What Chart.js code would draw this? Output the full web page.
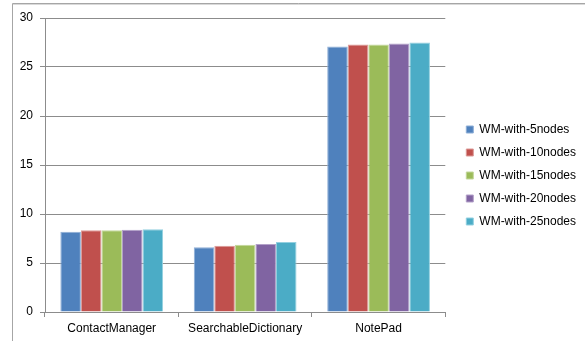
<!DOCTYPE html>
<html>
<head>
<meta charset="utf-8">
<script src="https://cdn.jsdelivr.net/npm/chart.js@4"></script>
<style>
  html, body { margin: 0; padding: 0; background: #ffffff; }
  #wrap { width: 585px; height: 341px; position: relative; }
</style>
</head>
<body>
<div id="wrap"><canvas id="chart" width="585" height="341"></canvas></div>
<script>
// Applications on the category axis
const categories = ['ContactManager', 'SearchableDictionary', 'NotePad'];

// One series per cluster size
const seriesNames = ['WM-with-5nodes', 'WM-with-10nodes', 'WM-with-15nodes', 'WM-with-20nodes', 'WM-with-25nodes'];
const wm5nodes  = [8.2, 6.6, 27.1];
const wm10nodes = [8.35, 6.75, 27.3];
const wm15nodes = [8.35, 6.85, 27.3];
const wm20nodes = [8.4, 6.95, 27.4];
const wm25nodes = [8.45, 7.15, 27.5];

// Value axis ticks
const yTicks = [0, 5, 10, 15, 20, 25, 30];

const seriesValues = [wm5nodes, wm10nodes, wm15nodes, wm20nodes, wm25nodes];
const fills   = ['#4F81BD', '#C0504D', '#9BBB59', '#8064A2', '#4BACC6'];
const borders = ['#8eaed6', '#dd9a98', '#c3d89c', '#b3a1c9', '#93d0e0'];

const FONT = '"Liberation Sans", Arial, sans-serif';

// Frame on the left and top edges of the picture
const framePlugin = {
  id: 'frame',
  beforeDraw(chart) {
    const ctx = chart.ctx;
    ctx.save();
    ctx.strokeStyle = '#a6a6a6';
    ctx.lineWidth = 1;
    ctx.beginPath();
    ctx.moveTo(12.5, chart.height);
    ctx.lineTo(12.5, 3.5);
    ctx.lineTo(chart.width, 3.5);
    ctx.stroke();
    ctx.strokeStyle = '#d9d9d9';
    ctx.beginPath();
    ctx.moveTo(13, 4.5);
    ctx.lineTo(chart.width, 4.5);
    ctx.stroke();
    ctx.restore();
  }
};

// Nudge the legend block a little right and up
const legendShift = {
  id: 'legendShift',
  afterLayout(chart) {
    const lg = chart.legend;
    if (!lg) return;
    lg.left += 10; lg.right += 10;
    lg.top -= 4; lg.bottom -= 4;
  }
};

new Chart(document.getElementById('chart'), {
  type: 'bar',
  data: {
    labels: categories,
    datasets: seriesNames.map((name, i) => ({
      label: name,
      data: seriesValues[i],
      backgroundColor: fills[i],
      borderColor: borders[i],
      borderWidth: 1,
      categoryPercentage: 0.77,
      barPercentage: 1.0
    }))
  },
  options: {
    responsive: false,
    animation: false,
    devicePixelRatio: 1,
    layout: { padding: { left: 0, top: 18, right: 9, bottom: 0 } },
    plugins: {
      tooltip: { enabled: false },
      legend: {
        position: 'right',
        labels: {
          boxWidth: 7,
          boxHeight: 7,
          padding: 11,
          color: '#000000',
          font: { family: FONT, size: 12 }
        }
      }
    },
    scales: {
      x: {
        afterFit(s) { s.height = 29; },
        grid: {
          offset: true,
          drawOnChartArea: false,
          drawTicks: true,
          tickLength: 5,
          color: '#8c8c8c'
        },
        border: { color: '#8c8c8c' },
        ticks: {
          color: '#000000',
          padding: 4,
          font: { family: FONT, size: 12 }
        }
      },
      y: {
        min: 0,
        max: 30,
        afterFit(s) { s.width = 45; },
        afterBuildTicks(s) { s.ticks = yTicks.map(v => ({ value: v })); },
        grid: {
          color: '#8c8c8c',
          tickLength: 5
        },
        border: { color: '#8c8c8c' },
        ticks: {
          color: '#000000',
          padding: 7,
          font: { family: FONT, size: 12 }
        }
      }
    }
  },
  plugins: [framePlugin, legendShift]
});
</script>
</body>
</html>
